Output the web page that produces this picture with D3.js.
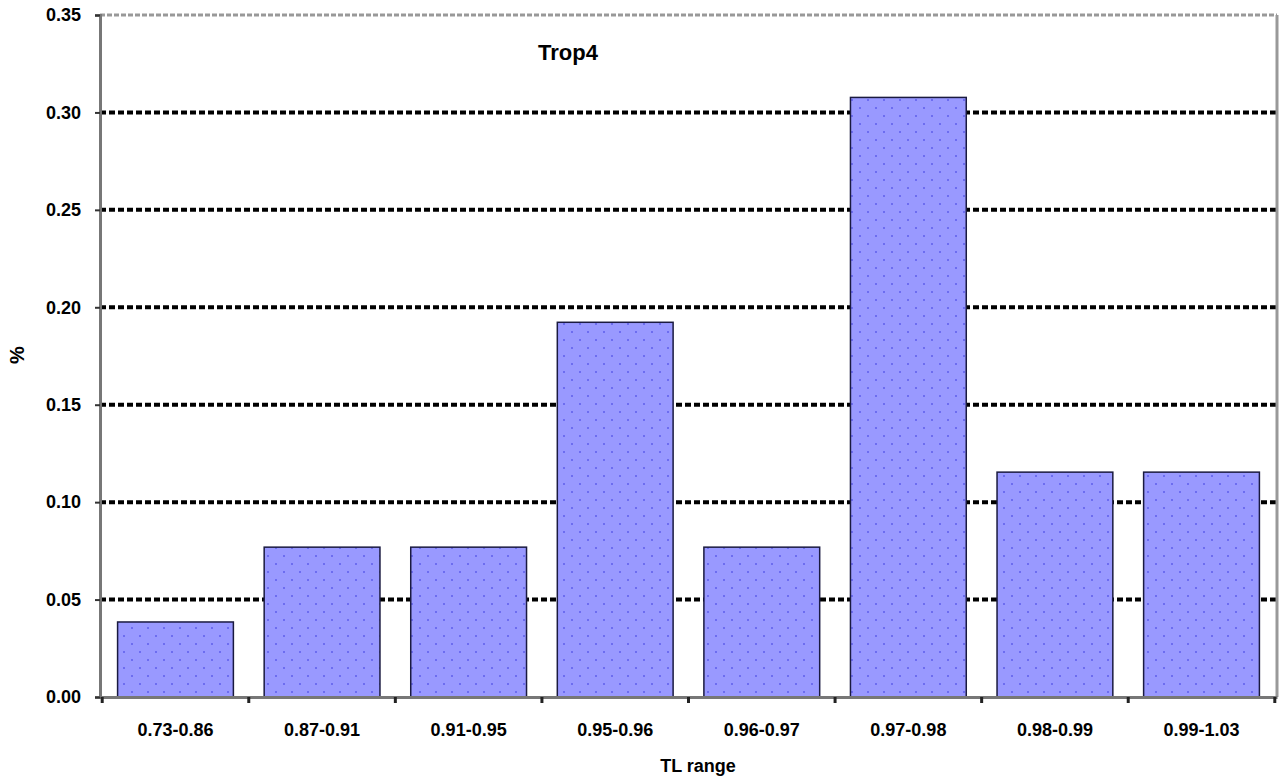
<!DOCTYPE html>
<html>
<head>
<meta charset="utf-8">
<script src="https://cdn.jsdelivr.net/npm/d3@7"></script>
<style>
  html, body { margin: 0; padding: 0; background: #fff; }
  svg { display: block; }
  text { font-family: "Liberation Sans", Arial, sans-serif; font-weight: bold; fill: #000; }
</style>
</head>
<body>
<svg id="chart" width="1283" height="778"></svg>
<script>
// Share of samples in each TL range
const categories = ["0.73-0.86", "0.87-0.91", "0.91-0.95", "0.95-0.96", "0.96-0.97", "0.97-0.98", "0.98-0.99", "0.99-1.03"];
const values = [0.0385, 0.0769, 0.0769, 0.1923, 0.0769, 0.3077, 0.1154, 0.1154];
const yTicks = [0.00, 0.05, 0.10, 0.15, 0.20, 0.25, 0.30, 0.35];
const chartTitle = "Trop4";
const xTitle = "TL range";
const yTitle = "%";

const svg = d3.select("#chart");
const margin = { left: 100, right: 6, top: 15, bottom: 81 };
const W = 1283, H = 778;
const x0 = margin.left, x1 = W - margin.right, y0 = H - margin.bottom, y1 = margin.top;

const x = d3.scaleBand().domain(categories).range([x0, x1]).paddingInner(0.21).paddingOuter(0.12);
const y = d3.scaleLinear().domain([0, 0.35]).range([y0, y1]);

// dotted fill for the bars
const defs = svg.append("defs");
const pat = defs.append("pattern").attr("id", "dots").attr("patternUnits", "userSpaceOnUse")
  .attr("width", 16).attr("height", 16);
pat.append("rect").attr("width", 16).attr("height", 16).attr("fill", "#9999ff");
pat.append("rect").attr("x", 3).attr("y", 3).attr("width", 2).attr("height", 2).attr("fill", "#6d6df0");
pat.append("rect").attr("x", 11).attr("y", 11).attr("width", 2).attr("height", 2).attr("fill", "#6d6df0");

// horizontal gridlines
svg.append("g").selectAll("line").data(yTicks.slice(1, -1)).join("line")
  .attr("x1", x0).attr("x2", x1)
  .attr("y1", d => y(d)).attr("y2", d => y(d))
  .attr("stroke", "#000").attr("stroke-width", 4).attr("stroke-dasharray", "6,3");

// plot frame: top and right edges
svg.append("line").attr("x1", x0).attr("x2", x1).attr("y1", y(0.35)).attr("y2", y(0.35))
  .attr("stroke", "#999").attr("stroke-width", 3).attr("stroke-dasharray", "5,2");
svg.append("line").attr("x1", x1).attr("x2", x1).attr("y1", y(0.35)).attr("y2", y0)
  .attr("stroke", "#999").attr("stroke-width", 3);

// bars
svg.append("g").selectAll("rect").data(categories).join("rect")
  .attr("x", d => x(d))
  .attr("y", (d, i) => y(values[i]))
  .attr("width", x.bandwidth())
  .attr("height", (d, i) => y(0) - y(values[i]))
  .attr("fill", "url(#dots)")
  .attr("stroke", "#1a1a40").attr("stroke-width", 1.5);

// y axis
const yAxis = svg.append("g").attr("transform", `translate(${x0},0)`)
  .call(d3.axisLeft(y).tickValues(yTicks).tickFormat(d3.format(".2f")).tickSize(5).tickPadding(14));
yAxis.select(".domain").attr("stroke", "#777").attr("stroke-width", 3);
yAxis.selectAll(".tick line").attr("stroke", "#333").attr("stroke-width", 2);
yAxis.selectAll("text").style("font-size", "18px").style("font-weight", "bold");

// x axis
const xAxis = svg.append("g").attr("transform", `translate(0,${y0})`)
  .call(d3.axisBottom(x).tickSize(0).tickPadding(26));
xAxis.select(".domain").attr("stroke", "#777").attr("stroke-width", 3);
xAxis.selectAll("text").style("font-size", "18px").style("font-weight", "bold");
// category boundary ticks
const step = x.step();
svg.append("g").selectAll("line").data(d3.range(categories.length + 1)).join("line")
  .attr("x1", i => x(categories[0]) - step * x.paddingInner() / 2 + i * step)
  .attr("x2", i => x(categories[0]) - step * x.paddingInner() / 2 + i * step)
  .attr("y1", y0).attr("y2", y0 + 6)
  .attr("stroke", "#222").attr("stroke-width", 3);

// titles
svg.append("text").attr("x", 568).attr("y", 60).attr("text-anchor", "middle")
  .style("font-size", "22px").text(chartTitle);
svg.append("text").attr("x", 698).attr("y", 772).attr("text-anchor", "middle")
  .style("font-size", "18px").text(xTitle);
svg.append("text").attr("transform", "translate(24,355) rotate(-90)").attr("text-anchor", "middle")
  .style("font-size", "20px").text(yTitle);
</script>
</body>
</html>
